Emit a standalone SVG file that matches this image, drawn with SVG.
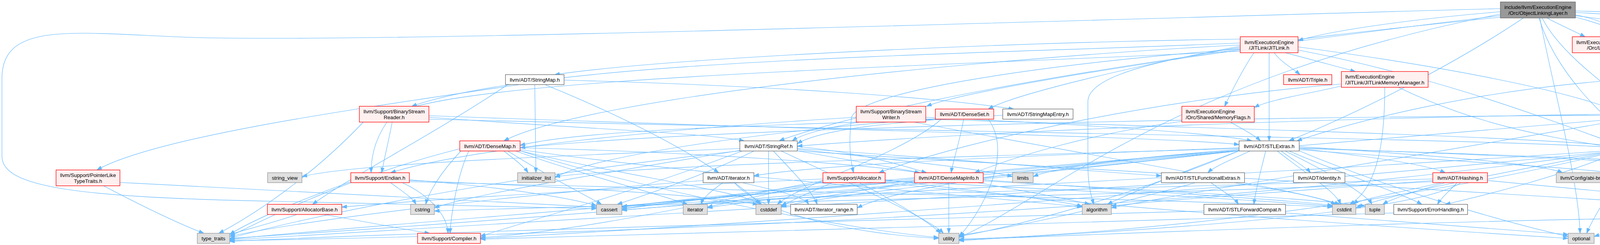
<svg xmlns="http://www.w3.org/2000/svg" width="5202" height="627" viewBox="0 0 5202 627">
<style>
.e{fill:none;stroke:#63b8ff;stroke-width:1.15;marker-end:url(#a)}
.r{fill:#fff0f0;stroke:#ff0000;stroke-width:1.3}
.w{fill:#ffffff;stroke:#666666;stroke-width:1.3}
.g{fill:#e0e0e0;stroke:#999999;stroke-width:1.3}
.h{fill:#999999;stroke:#666666;stroke-width:1.3}
text{font-family:"Liberation Sans",Arial,Helvetica,sans-serif;font-size:13.2px;fill:#000000;text-anchor:middle}
text.l{text-anchor:start}
</style>
<defs>
<marker id="a" markerWidth="14" markerHeight="10" refX="13" refY="5" orient="auto" markerUnits="userSpaceOnUse"><path d="M0,0.5 L13,5 L0,9.5 z" fill="#63b8ff" stroke="#63b8ff" stroke-width="1"/></marker>
</defs>
<rect x="0" y="0" width="5202" height="627" fill="#ffffff"/>
<g id="edges">
<path class="e" d="M3841,30 C3600,50 3400,80 3323,104"/>
<path class="e" d="M3960,46 C3990,62 4030,80 4058,94"/>
<path class="e" d="M4033,38 C4150,60 4209,120 4209,183"/>
<path class="e" d="M3948,46 C3990,130 4100,210 4178,272"/>
<path class="e" d="M3940,46 C3980,180 4100,300 4185,360"/>
<path class="e" d="M3900,46 C3700,180 3450,300 3300,360"/>
<path class="e" d="M4033,28 C4500,40 5000,70 5158,108"/>
<path class="e" d="M4033,32 C4600,60 4900,120 4980,250 C5040,350 5045,400 5045,442"/>
<path class="e" d="M4033,40 C4500,100 4970,150 4970,210 L4970,330 C4970,400 4850,430 4738,452"/>
<path class="e" d="M4033,44 C4300,110 4480,300 4597,442"/>
<path class="e" d="M3942,46 C3970,200 4040,450 4045,597"/>
<path class="e" d="M3841,40 C3000,140 2300,250 1995,360"/>
<path class="e" d="M3841,22 C2800,50 1000,110 500,96 C200,86 5,50 5,200 L5,400 C5,480 200,505 700,515 C1100,522 1400,530 1527,534"/>
<path class="e" d="M3841,44 C3300,100 2785,150 2785,260 L2785,420 C2785,480 2795,505 2800,523"/>
<path class="e" d="M3841,36 C3000,200 2700,500 2455,608"/>
<path class="e" d="M3262,135 C3280,160 3310,175 3328,191"/>
<path class="e" d="M3290,135 C3350,150 3420,170 3470,183"/>
<path class="e" d="M3210,135 C3180,180 3150,240 3135,272"/>
<path class="e" d="M3249,135 L3249,360.5"/>
<path class="e" d="M3323,120 C3700,170 4000,230 4135,282"/>
<path class="e" d="M3323,128 C3700,200 4000,320 4142,370"/>
<path class="e" d="M3175,115 C2500,150 1500,250 1290,360.5"/>
<path class="e" d="M3175,118 C2900,170 2600,240 2530,279"/>
<path class="e" d="M3175,125 C2600,170 2200,240 2180,300 C2170,380 2180,420 2185,442"/>
<path class="e" d="M3175,110 C2500,140 1400,150 1054,272"/>
<path class="e" d="M3175,128 C2800,180 2450,240 2372,272"/>
<path class="e" d="M3175,131 C2400,170 1100,200 1000,300 C960,350 950,400 950,442"/>
<path class="e" d="M3175,100 C2500,110 1700,150 1420,191"/>
<path class="e" d="M4125,135 C4150,155 4170,170 4180,183"/>
<path class="e" d="M1369,216.5 L1372,442"/>
<path class="e" d="M1395,216.5 C1600,300 1750,380 1840,442"/>
<path class="e" d="M1444,205 C2000,220 2400,250 2595,279"/>
<path class="e" d="M1330,216.5 C900,280 400,350 248,435"/>
<path class="e" d="M1300,216.5 C1100,350 900,450 800,523"/>
<path class="e" d="M1004,312.5 C995,360 985,400 977,442"/>
<path class="e" d="M1098,296 C2000,330 3000,350 3172,370"/>
<path class="e" d="M1098,300 C1500,330 1800,340 1905,360.5"/>
<path class="e" d="M1098,305 C2500,340 3800,355 4142,378"/>
<path class="e" d="M930,312.5 C800,450 650,550 560,597"/>
<path class="e" d="M2192,300 C1700,330 1200,380 1000,442"/>
<path class="e" d="M2200,312.5 C2100,330 2050,345 2028,360.5"/>
<path class="e" d="M2370,300 C2800,320 3100,340 3205,360.5"/>
<path class="e" d="M2370,305 C3200,330 3900,350 4142,374"/>
<path class="e" d="M2340,312.5 C2800,400 3300,480 3430,523"/>
<path class="e" d="M2467,305 C2455,370 2440,410 2435,442"/>
<path class="e" d="M2420,305 C2000,320 1500,330 1331.5,372"/>
<path class="e" d="M2400,303 C2000,330 1500,400 1421,455"/>
<path class="e" d="M2410,305 C2300,400 2050,470 1990,523"/>
<path class="e" d="M2530,305 C2600,400 2500,560 2455,605"/>
<path class="e" d="M2567,295 C2300,310 2100,330 2041,368"/>
<path class="e" d="M3150,312.5 C3180,330 3210,345 3227,360.5"/>
<path class="e" d="M3030,310 C2800,340 2600,400 2495,442"/>
<path class="e" d="M3434,220 C3350,240 3250,255 3211,275"/>
<path class="e" d="M3545,223.5 C3545,350 3530,480 3455,523"/>
<path class="e" d="M3434,215 C3000,250 2500,350 2250,442"/>
<path class="e" d="M3580,223.5 C3800,330 4000,355 4142,380"/>
<path class="e" d="M4209,223.5 L4209,272"/>
<path class="e" d="M4250,223.5 C4400,300 4530,380 4592,442"/>
<path class="e" d="M4283,220 C4500,300 4650,380 4695,442"/>
<path class="e" d="M4135,205 C3800,230 3500,300 3320,360.5"/>
<path class="e" d="M4283,215 C4700,300 5000,380 5090,450 C5150,510 4900,520 4600,525 C4400,530 4200,570 4081,605"/>
<path class="e" d="M4209,312.5 L4209,360.5"/>
<path class="e" d="M4135,295 C3000,300 1800,330 1331.5,378"/>
<path class="e" d="M4135,292 C3500,300 2600,330 2041,374"/>
<path class="e" d="M4283,300 C4450,350 4550,400 4588,442"/>
<path class="e" d="M4250,312.5 C4400,380 4460,460 4466,523"/>
<path class="e" d="M4135,305 C3000,400 1800,500 1592,536"/>
<path class="e" d="M4135,310 C3500,420 3000,500 2845,532"/>
<path class="e" d="M4283,290 C4700,350 5100,430 5130,500 C5160,560 5000,560 4700,555 C4000,550 2800,600 2455,614"/>
<path class="e" d="M1331.5,378 C1800,390 2200,420 2355,442"/>
<path class="e" d="M1290,386.5 C1320,410 1340,425 1352,442"/>
<path class="e" d="M1180,380 C900,450 700,550 588,605"/>
<path class="e" d="M1200,386.5 C1170,450 1155,550 1152,597"/>
<path class="e" d="M1180,386.5 C1120,450 1095,500 1090,523"/>
<path class="e" d="M1300,386.5 C1400,450 1500,500 1540,523"/>
<path class="e" d="M1331.5,383 C1800,450 2500,500 2770,530"/>
<path class="e" d="M1320,386.5 C1500,450 1700,500 1760,523"/>
<path class="e" d="M1331.5,386 C1600,450 1900,490 1950,523"/>
<path class="e" d="M1331.5,386 C1700,500 2200,590 2403,608"/>
<path class="e" d="M1967.5,386.5 L1967.5,523"/>
<path class="e" d="M1980,386.5 C2030,440 2080,490 2092,523"/>
<path class="e" d="M2041,375 C2200,390 2300,420 2372,442"/>
<path class="e" d="M2041,380 C2500,410 2800,440 2973,450"/>
<path class="e" d="M2041,382 C2300,410 2500,430 2592,452"/>
<path class="e" d="M1894,380 C1400,400 900,420 773,452"/>
<path class="e" d="M1900,386.5 C1600,500 1300,580 1230,605"/>
<path class="e" d="M2041,386 C3000,450 4000,510 4439,532"/>
<path class="e" d="M1930,386.5 C1800,450 1650,500 1580,523"/>
<path class="e" d="M1894,385 C1500,450 1200,500 1112,532"/>
<path class="e" d="M1894,386 C1300,450 800,550 588,610"/>
<path class="e" d="M2000,386.5 C2200,480 2380,560 2415,597"/>
<path class="e" d="M2041,386 C2400,450 2700,500 2790,523"/>
<path class="e" d="M3200,386.5 C3150,410 3110,425 3092,442"/>
<path class="e" d="M3240,386.5 C3230,430 3215,480 3210,523"/>
<path class="e" d="M3280,386.5 C3310,410 3340,425 3355,442"/>
<path class="e" d="M3326,380 C3500,400 3650,420 3700,442"/>
<path class="e" d="M3172,378 C2600,400 2100,420 1930,450"/>
<path class="e" d="M3172,382 C2700,420 2300,480 2194.5,532"/>
<path class="e" d="M3326,375 C3700,400 3950,420 4000,442"/>
<path class="e" d="M3300,386.5 C3450,450 3600,500 3640,523"/>
<path class="e" d="M3270,386.5 C3350,450 3420,490 3432,523"/>
<path class="e" d="M3290,386.5 C3420,450 3500,500 3512,523"/>
<path class="e" d="M3172,386 C3000,450 2880,500 2835,523"/>
<path class="e" d="M3172,384 C2500,440 1800,500 1592,530"/>
<path class="e" d="M3172,386 C2600,450 2100,500 2000,530"/>
<path class="e" d="M3326,383 C3800,420 4100,430 4180,452"/>
<path class="e" d="M3326,378 C3900,400 4400,420 4568,452"/>
<path class="e" d="M3172,380 C2500,400 1700,420 1421,452"/>
<path class="e" d="M3172,386 C2600,450 2000,500 1811,532"/>
<path class="e" d="M3172,386 C2900,400 2700,430 2645,452"/>
<path class="e" d="M3326,380 C4000,400 4500,420 4669.5,454"/>
<path class="e" d="M3326,386 C3600,500 3900,580 4014.5,605"/>
<path class="e" d="M3172,386 C2000,500 900,580 588,612"/>
<path class="e" d="M3172,386 C2900,500 2600,580 2455,605"/>
<path class="e" d="M4170,386.5 C4130,410 4110,425 4100,442"/>
<path class="e" d="M4210,386.5 L4210,442"/>
<path class="e" d="M4260,386.5 C4400,420 4460,470 4470,523"/>
<path class="e" d="M4180,386.5 C4150,450 4080,550 4062,597"/>
<path class="e" d="M4279,382 C4450,400 4550,420 4582,442"/>
<path class="e" d="M4279,384 C4500,410 4650,430 4688,442"/>
<path class="e" d="M4279,376 C4600,390 4900,420 5016,448"/>
<path class="e" d="M4142,386 C3000,500 1800,580 1230,610"/>
<path class="e" d="M4150,386.5 C4000,450 3800,500 3700,523"/>
<path class="e" d="M4142,384 C3200,450 2000,500 1592,538"/>
<path class="e" d="M4142,386 C3800,450 3550,500 3471,532"/>
<path class="e" d="M4142,386 C3000,550 1500,600 588,616"/>
<path class="e" d="M4142,386 C3600,520 2900,600 2455,612"/>
<path class="e" d="M265,475.5 C350,520 450,570 522,597"/>
<path class="e" d="M307,467 C800,490 1300,520 1527,530"/>
<path class="e" d="M1000,467.5 C1030,490 1055,505 1065,523"/>
<path class="e" d="M1030,467.5 C1100,500 1145,550 1147,597"/>
<path class="e" d="M898,465 C800,500 650,560 588,600"/>
<path class="e" d="M1048,460 C1300,480 1450,505 1527,526"/>
<path class="e" d="M1048,462 C1500,480 1800,500 1940,523"/>
<path class="e" d="M1048,465 C2000,490 3000,510 3411,530"/>
<path class="e" d="M1850,467.5 C1820,490 1800,505 1795,523"/>
<path class="e" d="M1880,467.5 C1910,490 1930,505 1945,523"/>
<path class="e" d="M1900,467.5 C2000,490 2060,505 2070,523"/>
<path class="e" d="M1800,462 C1300,500 800,560 588,605"/>
<path class="e" d="M1880,467.5 C1950,550 2200,600 2403,610"/>
<path class="e" d="M2106.6,458 C1600,480 1100,510 875,530"/>
<path class="e" d="M2106.6,462 C1800,520 1500,590 1230,608"/>
<path class="e" d="M2200,467.5 C2300,520 2380,570 2408,597"/>
<path class="e" d="M2130,467.5 C2080,490 2030,510 2000,528"/>
<path class="e" d="M2106.6,465 C2000,490 1880,515 1811,530"/>
<path class="e" d="M2106.6,467 C1900,500 1700,520 1592,533"/>
<path class="e" d="M2266,460 C2500,490 2700,510 2770.5,528"/>
<path class="e" d="M2266,462 C2800,490 3200,510 3411,528"/>
<path class="e" d="M2266,467 C2900,540 3700,590 4014.5,610"/>
<path class="e" d="M2429,467.5 L2429,597"/>
<path class="e" d="M2341,462 C2000,490 1700,515 1592,530"/>
<path class="e" d="M2341,465 C2200,490 2050,510 2000,525"/>
<path class="e" d="M2517,460 C2900,490 3300,510 3411,526"/>
<path class="e" d="M2517,463 C3000,490 3400,510 3495,528"/>
<path class="e" d="M2341,467 C1800,530 900,590 588,610"/>
<path class="e" d="M3100,467.5 C3130,490 3160,505 3170,523"/>
<path class="e" d="M3160,467.5 C3300,490 3380,505 3420,523"/>
<path class="e" d="M3050,467.5 C2000,530 900,590 588,614"/>
<path class="e" d="M3060,467.5 C2800,540 2550,590 2455,602"/>
<path class="e" d="M3291,545 C3600,570 3900,590 4014.5,600"/>
<path class="e" d="M3082,540 C2000,570 900,600 588,618"/>
<path class="e" d="M3730,467.5 C3710,490 3690,505 3680,523"/>
<path class="e" d="M3700,467.5 C3620,490 3560,510 3540,523"/>
<path class="e" d="M3668,458 C3000,480 2000,500 1592,528"/>
<path class="e" d="M3668,462 C3300,490 3000,510 2845,527"/>
<path class="e" d="M3668,465 C3000,500 1500,525 1112,540"/>
<path class="e" d="M3808,462 C4100,490 4350,510 4439.6,530"/>
<path class="e" d="M3740,467.5 C3600,560 2700,600 2455,616"/>
<path class="e" d="M3690,467.5 C3550,500 3480,510 3465,523"/>
<path class="e" d="M3568,545 C2800,570 1600,600 1230,612"/>
<path class="e" d="M830,549 C950,570 1050,590 1100,597"/>
<path class="e" d="M760,549 C700,570 620,590 588,600"/>
</g>
<g id="n_head"><rect class="h" x="3841" y="5" width="192" height="41"/><text x="3937" y="23">include/llvm/ExecutionEngine</text><text x="3937" y="38">/Orc/ObjectLinkingLayer.h</text></g>
<g id="n_jitlink"><rect class="r" x="3175" y="94" width="148" height="41"/><text x="3249" y="112.5">llvm/ExecutionEngine</text><text x="3249" y="127">/JITLink/JITLink.h</text></g>
<g id="n_layer"><rect class="r" x="4025" y="94" width="147" height="41"/><text x="4098.5" y="112.5">llvm/ExecutionEngine</text><text x="4098.5" y="127">/Orc/Layer.h</text></g>
<g id="n_list"><rect class="g" x="5158" y="102" width="38.5" height="25.5"/><text x="5177.25" y="120">list</text></g>
<g id="n_stringmap"><rect class="w" x="1294" y="191" width="150" height="25.5"/><text x="1369" y="209">llvm/ADT/StringMap.h</text></g>
<g id="n_triple"><rect class="r" x="3286" y="191" width="123.5" height="25.5"/><text x="3347.75" y="209">llvm/ADT/Triple.h</text></g>
<g id="n_jitlinkmm"><rect class="r" x="3434" y="183" width="222" height="40.5"/><text class="l" x="3444" y="201">llvm/ExecutionEngine</text><text class="l" x="3444" y="216">/JITLink/JITLinkMemoryManager.h</text></g>
<g id="n_core"><rect class="r" x="4135" y="183" width="148" height="40.5"/><text x="4209" y="201">llvm/ExecutionEngine</text><text x="4209" y="216">/Orc/Core.h</text></g>
<g id="n_bsreader"><rect class="r" x="920" y="272" width="178" height="40.5"/><text x="1009" y="290">llvm/Support/BinaryStream</text><text x="1009" y="305">Reader.h</text></g>
<g id="n_bswriter"><rect class="r" x="2192" y="272" width="178" height="40.5"/><text x="2281" y="290">llvm/Support/BinaryStream</text><text x="2281" y="305">Writer.h</text></g>
<g id="n_denseset"><rect class="r" x="2394.5" y="279" width="149.5" height="26"/><text x="2469.25" y="297">llvm/ADT/DenseSet.h</text></g>
<g id="n_stringmapentry"><rect class="w" x="2567" y="279" width="180" height="26"/><text x="2657" y="297">llvm/ADT/StringMapEntry.h</text></g>
<g id="n_memoryflags"><rect class="r" x="3025.5" y="272" width="185.5" height="40.5"/><text class="l" x="3035.5" y="290">llvm/ExecutionEngine</text><text class="l" x="3035.5" y="305">/Orc/Shared/MemoryFlags.h</text></g>
<g id="n_jitsymbol"><rect class="r" x="4135" y="272" width="148" height="40.5"/><text x="4209" y="290">llvm/ExecutionEngine</text><text x="4209" y="305">/JITSymbol.h</text></g>
<g id="n_densemap"><rect class="r" x="1177" y="360.5" width="154.5" height="26"/><text x="1254.25" y="378.5">llvm/ADT/DenseMap.h</text></g>
<g id="n_stringref"><rect class="w" x="1894" y="360.5" width="147" height="26"/><text x="1967.5" y="378.5">llvm/ADT/StringRef.h</text></g>
<g id="n_stlextras"><rect class="w" x="3172" y="360.5" width="154" height="26"/><text x="3249" y="378.5">llvm/ADT/STLExtras.h</text></g>
<g id="n_error"><rect class="r" x="4142" y="360.5" width="137" height="26"/><text x="4210.5" y="378.5">llvm/Support/Error.h</text></g>
<g id="n_pointerlike"><rect class="r" x="143.5" y="435" width="163.5" height="40.5"/><text x="225.25" y="453">llvm/Support/PointerLike</text><text x="225.25" y="468">TypeTraits.h</text></g>
<g id="n_string_view"><rect class="g" x="685" y="442" width="88" height="25.5"/><text x="729" y="460">string_view</text></g>
<g id="n_endian"><rect class="r" x="898" y="442" width="150" height="25.5"/><text x="973" y="460">llvm/Support/Endian.h</text></g>
<g id="n_initializer_list"><rect class="g" x="1325" y="442" width="96" height="25.5"/><text x="1373" y="460">initializer_list</text></g>
<g id="n_iterator_h"><rect class="w" x="1800" y="442" width="130" height="25.5"/><text x="1865" y="460">llvm/ADT/iterator.h</text></g>
<g id="n_allocator"><rect class="r" x="2106.6" y="442" width="159.4" height="25.5"/><text x="2186.3" y="460">llvm/Support/Allocator.h</text></g>
<g id="n_densemapinfo"><rect class="r" x="2341" y="442" width="176" height="25.5"/><text x="2429" y="460">llvm/ADT/DenseMapInfo.h</text></g>
<g id="n_limits"><rect class="g" x="2592" y="442" width="53" height="25.5"/><text x="2618.5" y="460">limits</text></g>
<g id="n_stlfunctional"><rect class="w" x="2973" y="442" width="213" height="25.5"/><text x="3079.5" y="460">llvm/ADT/STLFunctionalExtras.h</text></g>
<g id="n_identity"><rect class="w" x="3311.5" y="442" width="131.5" height="25.5"/><text x="3377.25" y="460">llvm/ADT/identity.h</text></g>
<g id="n_hashing"><rect class="r" x="3668" y="442" width="140" height="25.5"/><text x="3738" y="460">llvm/ADT/Hashing.h</text></g>
<g id="n_abibreaking"><rect class="g" x="3984" y="442" width="173" height="25.5"/><text x="4070.5" y="460">llvm/Config/abi-breaking.h</text></g>
<g id="n_cstdlib"><rect class="g" x="4180" y="442" width="60" height="25.5"/><text x="4210" y="460">cstdlib</text></g>
<g id="n_functional"><rect class="g" x="4568" y="442" width="77" height="25.5"/><text x="4606.5" y="460">functional</text></g>
<g id="n_memory"><rect class="g" x="4669.5" y="442" width="68.5" height="25.5"/><text x="4703.75" y="460">memory</text></g>
<g id="n_vector"><rect class="g" x="5016" y="442" width="58" height="25.5"/><text x="5045" y="460">vector</text></g>
<g id="n_allocatorbase"><rect class="r" x="684.5" y="523" width="190.5" height="26"/><text x="779.75" y="541">llvm/Support/AllocatorBase.h</text></g>
<g id="n_cstring"><rect class="g" x="1051" y="523" width="61" height="26"/><text x="1081.5" y="541">cstring</text></g>
<g id="n_cassert"><rect class="g" x="1527" y="523" width="65" height="26"/><text x="1559.5" y="541">cassert</text></g>
<g id="n_iterator"><rect class="g" x="1749" y="523" width="62" height="26"/><text x="1780" y="541">iterator</text></g>
<g id="n_cstddef"><rect class="g" x="1935" y="523" width="65" height="26"/><text x="1967.5" y="541">cstddef</text></g>
<g id="n_iterator_range"><rect class="w" x="2024" y="523" width="170.5" height="26"/><text x="2109.25" y="541">llvm/ADT/iterator_range.h</text></g>
<g id="n_algorithm"><rect class="g" x="2770.5" y="523" width="74.5" height="26"/><text x="2807.75" y="541">algorithm</text></g>
<g id="n_stlforward"><rect class="w" x="3082" y="523" width="209" height="26"/><text x="3186.5" y="541">llvm/ADT/STLForwardCompat.h</text></g>
<g id="n_cstdint"><rect class="g" x="3411" y="523" width="60" height="26"/><text x="3441" y="541">cstdint</text></g>
<g id="n_tuple"><rect class="g" x="3495" y="523" width="49" height="26"/><text x="3519.5" y="541">tuple</text></g>
<g id="n_errorhandling"><rect class="w" x="3568" y="523" width="189" height="26"/><text x="3662.5" y="541">llvm/Support/ErrorHandling.h</text></g>
<g id="n_string"><rect class="g" x="4439.6" y="523" width="54" height="26"/><text x="4466.6" y="541">string</text></g>
<g id="n_type_traits"><rect class="g" x="505" y="597" width="83" height="26"/><text x="546.5" y="615">type_traits</text></g>
<g id="n_compiler"><rect class="r" x="1069" y="597" width="161" height="26"/><text x="1149.5" y="615">llvm/Support/Compiler.h</text></g>
<g id="n_utility"><rect class="g" x="2403" y="597" width="52" height="26"/><text x="2429" y="615">utility</text></g>
<g id="n_optional"><rect class="g" x="4014.5" y="597" width="66.5" height="26"/><text x="4047.75" y="615">optional</text></g>
</svg>
